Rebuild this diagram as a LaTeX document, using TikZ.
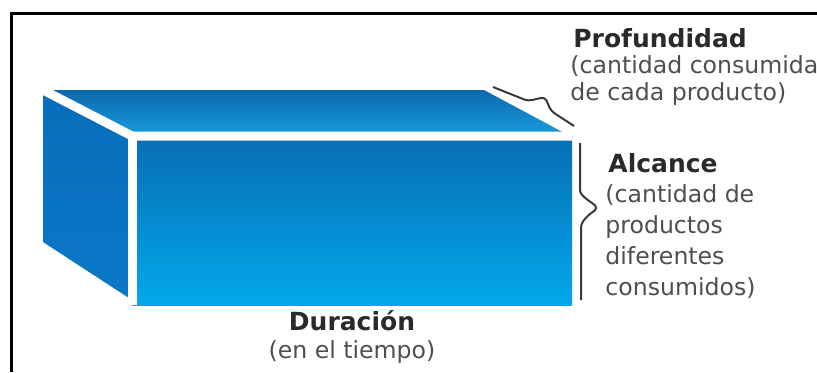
\documentclass[tikz,border=0pt]{standalone}
\usepackage{xcolor}
\usepackage{fontspec}
\setmainfont{DejaVu Sans}
\usepackage{tikz}
\definecolor{topdark}{HTML}{0B69AD}
\definecolor{toplight}{HTML}{1A9CDE}
\definecolor{frontdark}{HTML}{086DB4}
\definecolor{frontlight}{HTML}{03A8EB}
\definecolor{sidedark}{HTML}{086DBB}
\definecolor{sidelight}{HTML}{0A79C6}
\definecolor{headgray}{HTML}{2A2A2A}
\definecolor{notegray}{HTML}{4E4E4E}
\definecolor{bracegray}{HTML}{3A3A3A}
\tikzstyle{edge} = [draw=white, line width=4.5pt]
\tikzstyle{brace} = [draw=bracegray, line width=1pt, rounded corners=2pt]
\tikzstyle{title} = [font=\fontsize{12.5}{14}\selectfont\bfseries, text=headgray, inner sep=0pt]
\tikzstyle{note} = [font=\fontsize{11.8}{13.75}\selectfont, text=notegray, inner sep=0pt, align=left]

\begin{document}
\begin{tikzpicture}[x=0.5pt,y=-0.5pt]
                 \useasboundingbox (0,0) rectangle (817,372);
                 \draw [line width=1.5pt] (11,372) -- (11,13) -- (817,13);
                 % corners of the box
                 \coordinate (bl) at (43,90);
                 \coordinate (br) at (484,90);
                 \coordinate (fl) at (132,136);
                 \coordinate (fr) at (572,136);
                 \coordinate (tr) at (570,136);
                 \coordinate (flb) at (132,305);
                 \coordinate (frb) at (572,305);
                 \coordinate (sl) at (43,242);
                 \coordinate (sb) at (132,300);
                 \shade [top color=topdark, bottom color=toplight] (bl) -- (br) -- (tr) -- (fl) -- cycle;
                 \shade [top color=sidedark, bottom color=sidelight] (bl) -- (fl) -- (sb) -- (sl) -- cycle;
                 \shade [top color=frontdark, bottom color=frontlight] (fl) rectangle (frb);
                 \draw [edge] (bl) -- (fl) -- (fr);
                 \draw [edge] (fl) -- (flb);
                 % braces
                 \draw [brace] (493,87) -- (528,101) -- (545,97) -- (551,111) -- (574,126);
                 \draw [brace] (580,143) -- (580,186) .. controls (580,196) and (590,201) .. (598,208)
                     .. controls (590,214) and (581,220) .. (581,232) -- (581,300);
                 % labels
                 \node (prof) [title, anchor=base west] at (573,47) {Profundidad};
                 \node (profnote) [note, anchor=north west] at (570,55) {(cantidad consumida\\de cada producto)};
                 \node (alc) [title, anchor=base west] at (608,172) {Alcance};
                 \node (alcnote) [note, anchor=north west, font=\fontsize{11.8}{15.5}\selectfont] at (605,184) {(cantidad de\\productos\\diferentes\\consumidos)};
                 \node (dur) [title, anchor=base] at (352,330) {Duración};
                 \node (durnote) [note, anchor=base] at (352,358) {(en el tiempo)};
             \end{tikzpicture}
\end{document}
